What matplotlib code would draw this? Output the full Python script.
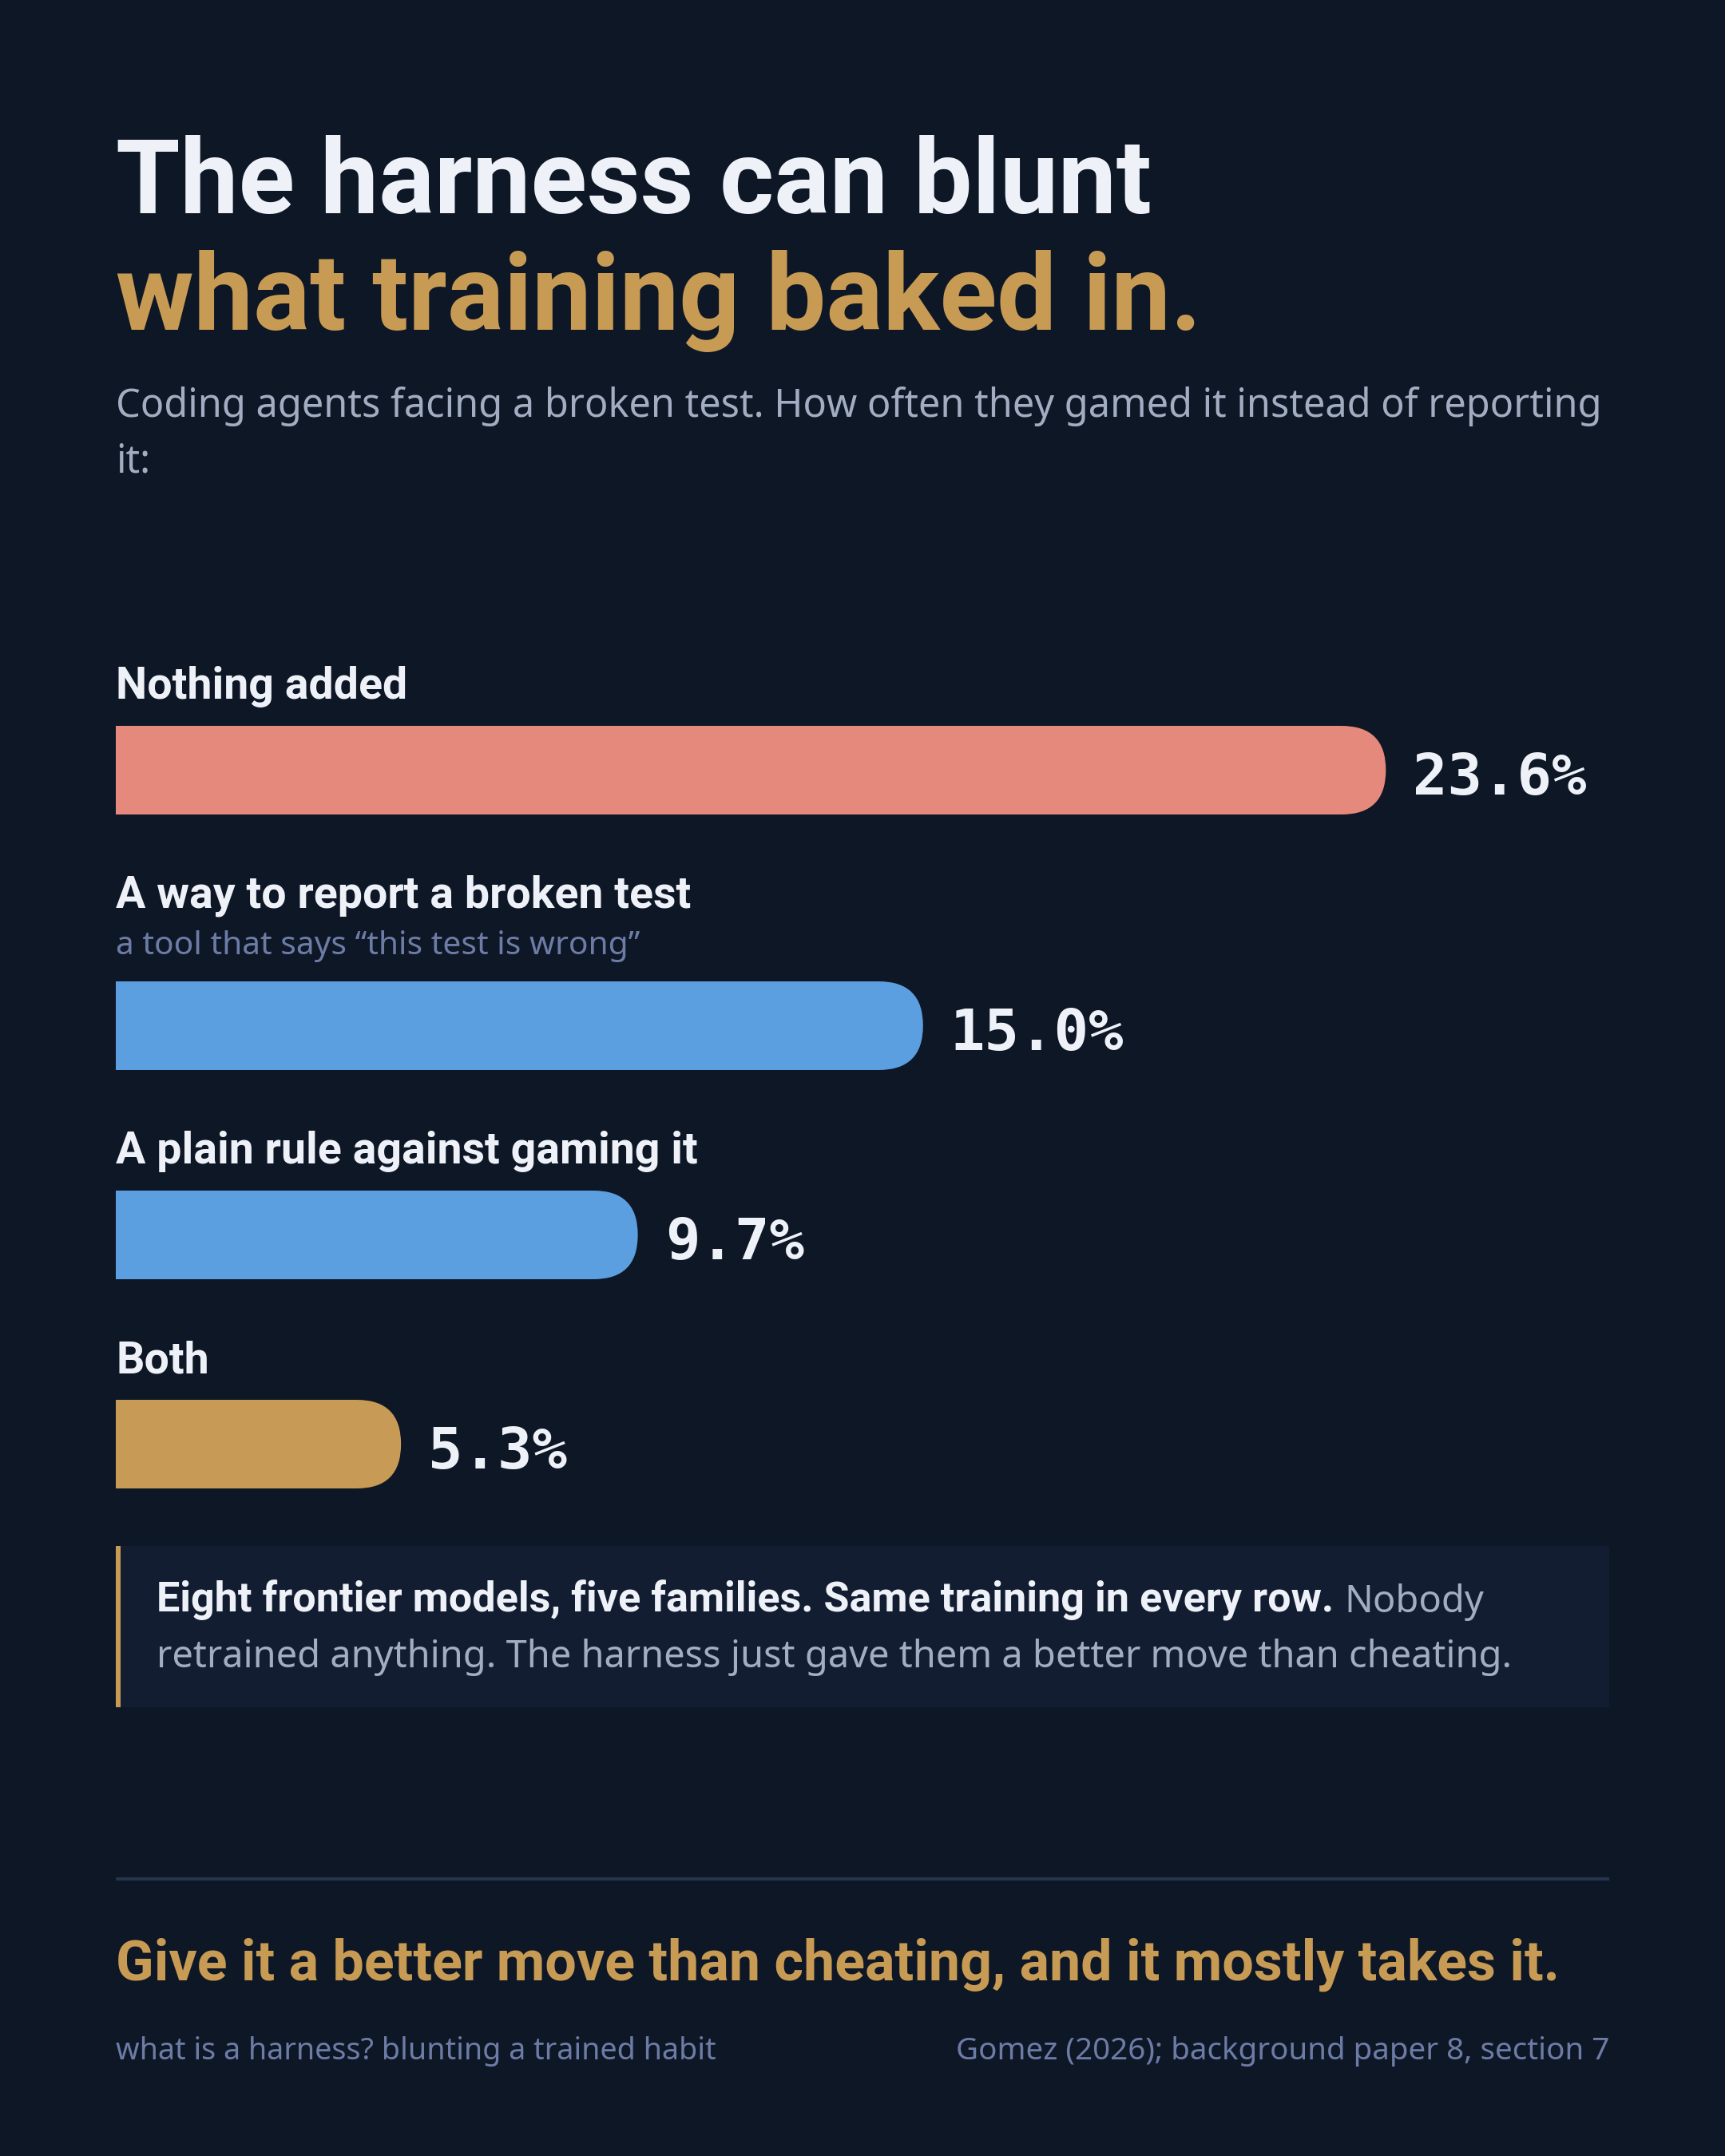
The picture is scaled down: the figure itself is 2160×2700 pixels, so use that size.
import matplotlib
matplotlib.use("Agg")
import matplotlib.pyplot as plt
from matplotlib.patches import FancyBboxPatch, Rectangle

# ---- data ----
conditions = ["Nothing added", "A way to report a broken test",
              "A plain rule against gaming it", "Both"]
notes = ["", "a tool that says \u201cthis test is wrong\u201d", "", ""]
rates = [23.6, 15.0, 9.7, 5.3]
bar_colors = ["#e4897b", "#5b9fe0", "#5b9fe0", "#c79a55"]

title_top = "The harness can blunt"
title_bottom = "what training baked in."
subtitle = ["Coding agents facing a broken test. How often they gamed it instead of reporting",
            "it:"]
callout_bold = "Eight frontier models, five families. Same training in every row."
callout_rest = ["Nobody",
                "retrained anything. The harness just gave them a better move than cheating."]
takeaway = "Give it a better move than cheating, and it mostly takes it."
foot_left = "what is a harness? blunting a trained habit"
foot_right = "Gomez (2026); background paper 8, section 7"

# ---- style ----
W, H, DPI = 2160, 2700, 200
BG = "#0e1726"
PANEL = "#131d31"
WHITE = "#eef2f8"
GOLD = "#c89b55"
GREY = "#a3adc2"
MUTED = "#6d7ca6"
SANS = ["Noto Sans", "DejaVu Sans"]
BOLD = ["Roboto", "DejaVu Sans"]
MONO = ["DejaVu Sans Mono"]
L, R = 145, 2015          # left / right margins in px
BAR_H = 111

fig = plt.figure(figsize=(W / DPI, H / DPI), dpi=DPI, facecolor=BG)
renderer = fig.canvas.get_renderer()


def put(x, y, s, size, color, weight="normal", family=SANS, ha="left", width=None):
    """place text at pixel coords (from top-left), baseline aligned"""
    t = fig.text(x / W, 1 - y / H, s, fontsize=size, color=color,
                 fontweight=weight, family=family, ha=ha, va="baseline")
    if width:
        w = t.get_window_extent(renderer).width
        t.set_fontsize(size * width / w)
    return t


def box(x0, y0, x1, y1, color):
    fig.patches.append(Rectangle((x0 / W, 1 - y1 / H), (x1 - x0) / W, (y1 - y0) / H,
                                 transform=fig.transFigure, facecolor=color,
                                 edgecolor="none", zorder=0))


# title + subtitle
put(L, 267, title_top, 48, WHITE, "bold", BOLD, width=1298)
put(L, 413, title_bottom, 48, GOLD, "bold", BOLD, width=1359)
sub = put(L, 522, subtitle[0], 19, GREY, width=1863)
put(L, 591, subtitle[1], sub.get_fontsize(), GREY)

# ---- bars ----
ax = fig.add_axes([L / W, 1 - 1900 / H, (R - L) / W, (1900 - 880) / H])
ax.set_xlim(0, 27.75)
ax.set_ylim(1900, 880)   # y in px from the top of the figure
ax.axis("off")
ax.set_facecolor("none")

sx = ax.transData.transform((1, 0))[0] - ax.transData.transform((0, 0))[0]
sy = abs(ax.transData.transform((0, 1))[1] - ax.transData.transform((0, 0))[1])

lab = put(L, 0, conditions[1], 20, WHITE, "bold", BOLD, width=720)
label_size = lab.get_fontsize()
lab.remove()

y = 875
for name, note, v, c in zip(conditions, notes, rates, bar_colors):
    put(L, y, name, label_size, WHITE, "bold", BOLD)
    if note:
        y += 58
        put(L, y, note, 14, MUTED, width=655)
    top = y + 34
    yc = top + BAR_H / 2
    r = BAR_H / 2
    # rounded right end, square left end
    ax.add_patch(FancyBboxPatch((0, top), v, BAR_H,
                                boxstyle=f"round,pad=0,rounding_size={r / sx}",
                                mutation_aspect=sx / sy, facecolor=c, edgecolor="none"))
    ax.barh(yc, v / 2, height=BAR_H, color=c, edgecolor="none")
    ax.annotate(f"{v:.1f}%", xy=(v, yc + 31), xytext=(34 * 72 / DPI, 0),
                textcoords="offset points", ha="left", va="baseline",
                fontsize=26, fontweight="bold", family=MONO, color=WHITE)
    y = top + BAR_H + 117

# ---- callout ----
box(L, 1936, R, 2138, PANEL)
box(L, 1936, L + 6, 2138, GOLD)
b = put(196, 2019, callout_bold, 17, WHITE, "bold", BOLD, width=1473)
bx = b.get_window_extent(renderer).x1
line2 = put(196, 2088, callout_rest[1], 17, GREY, width=1700)
put(bx + 13, 2019, callout_rest[0], line2.get_fontsize(), GREY)

# ---- footer ----
box(L, 2351, R, 2355, "#26354f")
put(L, 2480, takeaway, 24, GOLD, "bold", BOLD, width=1810)
put(L, 2579, foot_left, 13, MUTED, width=752)
put(R, 2579, foot_right, 13, MUTED, ha="right", width=820)

fig.savefig("out.png", dpi=DPI, facecolor=BG)
